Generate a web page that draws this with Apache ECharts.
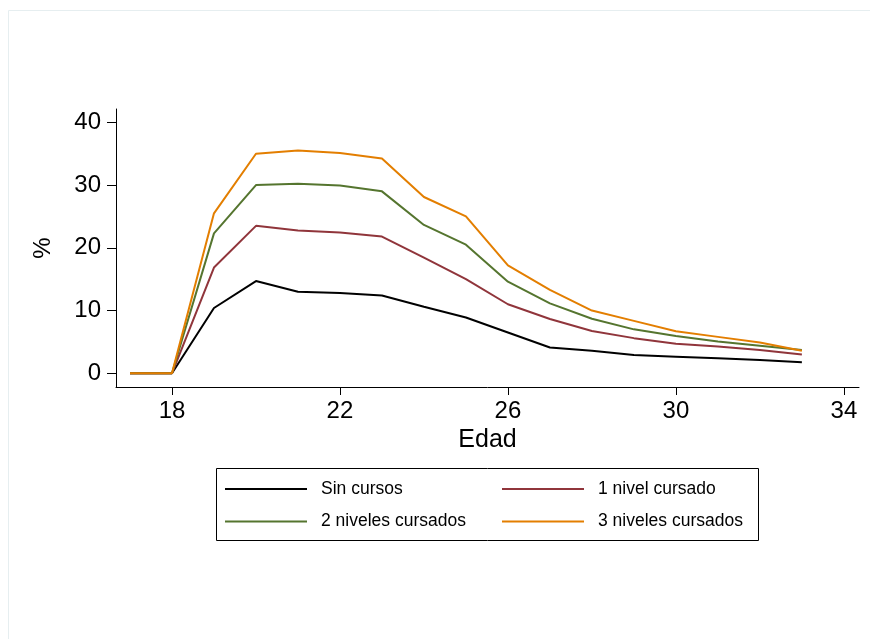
<!DOCTYPE html>
<html>
<head>
<meta charset="utf-8">
<script src="https://cdn.jsdelivr.net/npm/echarts@6/dist/echarts.min.js"></script>
<style>
  html, body { margin: 0; padding: 0; background: #fff; }
  #chart { width: 870px; height: 639px; }
</style>
</head>
<body>
<div id="chart"></div>
<script>
  // edades (eje x)
  var edades = [17, 18, 19, 20, 21, 22, 23, 24, 25, 26, 27, 28, 29, 30, 31, 32, 33]
  // porcentajes por grupo
  var sinCursos = [0, 0, 10.4, 14.7, 13.0, 12.8, 12.4, 10.6, 8.9, 6.5, 4.1, 3.6, 2.9, 2.65, 2.4, 2.1, 1.75]
  var unNivel = [0, 0, 16.85, 23.5, 22.75, 22.45, 21.8, 18.45, 15.0, 11.0, 8.65, 6.75, 5.6, 4.7, 4.25, 3.7, 3.0]
  var dosNiveles = [0, 0, 22.3, 30.0, 30.2, 29.95, 29.0, 23.65, 20.5, 14.6, 11.15, 8.7, 7.0, 5.95, 5.05, 4.4, 3.7]
  var tresNiveles = [0, 0, 25.5, 35.0, 35.5, 35.1, 34.25, 28.1, 25.0, 17.2, 13.3, 10.0, 8.35, 6.7, 5.8, 4.9, 3.6]
  var nombres = ['Sin cursos', '1 nivel cursado', '2 niveles cursados', '3 niveles cursados']
  var xTicks = [18, 22, 26, 30, 34]
  var yTicks = [0, 10, 20, 30, 40]

  var colores = ['#000000', '#90353b', '#55752f', '#e37e00']
  var fuente = "'Liberation Sans', Arial, sans-serif"

  function pares (valores) {
    return edades.map(function (e, i) { return [e, valores[i]] })
  }

  var valoresSeries = [sinCursos, unNivel, dosNiveles, tresNiveles]
  var series = valoresSeries.map(function (v, i) {
    return {
      name: nombres[i],
      type: 'line',
      symbol: 'none',
      showSymbol: false,
      color: colores[i],
      lineStyle: { width: 2, color: colores[i] },
      data: pares(v)
    }
  })

  var legendaBase = {
    orient: 'vertical',
    top: 480,
    padding: 0,
    itemGap: 14.5,
    itemWidth: 82,
    itemHeight: 2,
    icon: 'rect',
    selectedMode: false,
    textStyle: { fontFamily: fuente, fontSize: 17.5, color: '#000', padding: [0, 0, 0, 9] }
  }

  var myChart = echarts.init(document.getElementById('chart'))
  myChart.setOption({
    animation: false,
    backgroundColor: '#ffffff',
    textStyle: { fontFamily: fuente },
    graphic: [
      {
        type: 'rect',
        shape: { x: 8.5, y: 10.5, width: 880, height: 660 },
        style: { fill: 'none', stroke: '#e6eef0', lineWidth: 1 },
        silent: true
      },
      {
        type: 'rect',
        shape: { x: 216.5, y: 468.5, width: 542, height: 72 },
        style: { fill: 'none', stroke: '#000', lineWidth: 1 },
        silent: true
      }
    ],
    grid: { left: 116, top: 109, right: 11, bottom: 252, containLabel: false },
    legend: [
      Object.assign({}, legendaBase, { left: 225, data: ['Sin cursos', '2 niveles cursados'] }),
      Object.assign({}, legendaBase, { left: 502, data: ['1 nivel cursado', '3 niveles cursados'] })
    ],
    xAxis: {
      type: 'value',
      min: 16.667,
      max: 34.36,
      name: 'Edad',
      nameLocation: 'middle',
      nameGap: 41,
      nameTextStyle: { fontFamily: fuente, fontSize: 25, color: '#000' },
      axisLine: { show: true, onZero: false, lineStyle: { color: '#000', width: 1 } },
      axisTick: { show: true, length: 8, customValues: xTicks, lineStyle: { color: '#000' } },
      axisLabel: { customValues: xTicks, fontFamily: fuente, fontSize: 24, color: '#000', margin: 12 },
      splitLine: { show: false }
    },
    yAxis: {
      type: 'value',
      min: -2.19,
      max: 42.13,
      name: '%',
      nameLocation: 'middle',
      nameGap: 61,
      nameTextStyle: { fontFamily: fuente, fontSize: 24, color: '#000' },
      axisLine: { show: true, onZero: false, lineStyle: { color: '#000', width: 1 } },
      axisTick: { show: true, length: 9, customValues: yTicks, lineStyle: { color: '#000' } },
      axisLabel: { customValues: yTicks, fontFamily: fuente, fontSize: 24, color: '#000', margin: 15 },
      splitLine: { show: false }
    },
    series: series
  })
</script>
</body>
</html>
